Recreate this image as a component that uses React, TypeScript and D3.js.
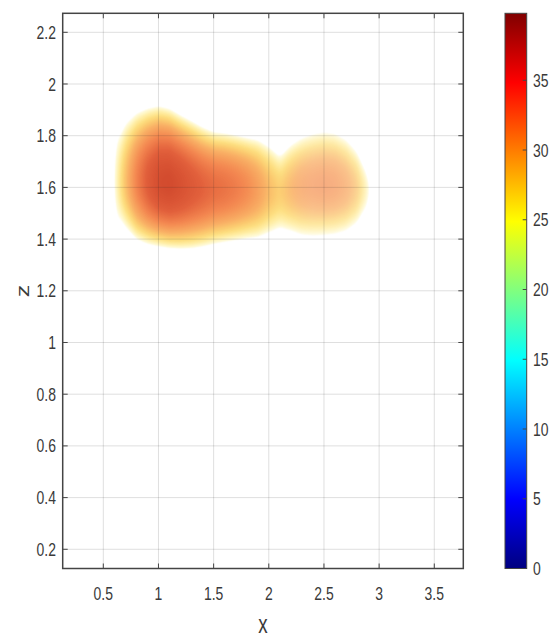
import React, { useMemo } from 'react';
import * as d3 from 'd3';

// ---------- layout (page pixels) ----------
const W = 553;
const H = 642;
const plotLeft = 62.7;
const plotRight = 463.3;
const plotTop = 13.3;
const plotBottom = 568.5;
const cbLeft = 505;
const cbRight = 526.7;

// ---------- axis data ----------
const xDomain = [0.132, 3.763];
const zDomain = [0.1257, 2.2735];
const xTicks = [0.5, 1, 1.5, 2, 2.5, 3, 3.5];
const xTickLabels = ['0.5', '1', '1.5', '2', '2.5', '3', '3.5'];
const zTicks = [0.2, 0.4, 0.6, 0.8, 1, 1.2, 1.4, 1.6, 1.8, 2, 2.2];
const zTickLabels = ['0.2', '0.4', '0.6', '0.8', '1', '1.2', '1.4', '1.6', '1.8', '2', '2.2'];
const cbDomain = [0, 39.8];
const cbTicks = [0, 5, 10, 15, 20, 25, 30, 35];
const jetStops = [0, 1 / 8, 3 / 8, 5 / 8, 7 / 8, 1];
const jetColors = ['#000080', '#0000ff', '#00ffff', '#ffff00', '#ff0000', '#800000'];

// ---------- blob data, read column by column (x step 0.1) ----------
const colX = [0.5, 0.6, 0.7, 0.8, 0.9, 1.0, 1.1, 1.2, 1.3, 1.4, 1.5, 1.6, 1.7, 1.8, 1.9, 2.0, 2.1, 2.2, 2.3, 2.4, 2.5, 2.6, 2.7, 2.8, 2.9, 3.0];
const peakVal = [19, 23.8, 27.3, 30.2, 32.3, 33.7, 34.0, 33.4, 32.6, 31.9, 31.3, 31.0, 30.5, 29.8, 28.8, 27.5, 26.6, 27.8, 28.8, 29.3, 29.5, 29.3, 28.6, 27.2, 24.2, 19];
const centerZ = [1.62, 1.62, 1.625, 1.625, 1.625, 1.62, 1.615, 1.61, 1.605, 1.6, 1.6, 1.6, 1.6, 1.6, 1.595, 1.59, 1.585, 1.595, 1.605, 1.61, 1.61, 1.61, 1.605, 1.6, 1.595, 1.59];
const topZ = [1.72, 1.73, 1.835, 1.88, 1.9, 1.91, 1.9, 1.875, 1.852, 1.828, 1.81, 1.805, 1.797, 1.787, 1.777, 1.75, 1.712, 1.757, 1.785, 1.8, 1.808, 1.802, 1.778, 1.73, 1.63, 1.62];
const bottomZ = [1.54, 1.53, 1.455, 1.405, 1.385, 1.375, 1.368, 1.366, 1.368, 1.375, 1.385, 1.393, 1.4, 1.407, 1.413, 1.432, 1.452, 1.438, 1.422, 1.418, 1.42, 1.425, 1.438, 1.47, 1.55, 1.56];
const opacityCol = [1, 1, 1, 1, 1, 1, 1, 1, 1, 1, 1, 1, 1, 1, 1, 1, 1, 0.9, 0.8, 0.75, 0.75, 0.75, 0.75, 0.75, 0.75, 0.75];

// rendered look of the translucent volume by value
const shadeStops = [23.6, 24, 25, 26, 27, 28, 30, 32, 34, 36];
const shadeColors = ['#ffe100', '#ffde00', '#ffce00', '#fbbd00', '#f8a005', '#f57e05', '#ee5305', '#d82f00', '#c82300', '#be1900'];
const shadeAlpha = [0, 0.15, 0.35, 0.5, 0.58, 0.62, 0.7, 0.77, 0.82, 0.85];

const FONT = "'Liberation Sans', Arial, Helvetica, sans-serif";
const SX = 0.75;
const FS = 18.6;
const TEXT = '#3a3a3a';
const AXIS = '#444';

function colParam(arr: number[], x: number) {
  const f = (x - colX[0]) / (colX[1] - colX[0]);
  const i = Math.max(0, Math.min(colX.length - 2, Math.floor(f)));
  const t = f - i;
  return arr[i] * (1 - t) + arr[i + 1] * t;
}

function fieldAt(x: number, z: number) {
  if (x < colX[0] || x > colX[colX.length - 1]) return 15;
  const P = colParam(peakVal, x);
  const zc = colParam(centerZ, x);
  const T = colParam(topZ, x);
  const B = colParam(bottomZ, x);
  const u = z >= zc ? (z - zc) / (T - zc) : (zc - z) / (zc - B);
  const k = Math.max(P - 24, 0.5);
  return Math.max(P - k * u * u, 18);
}

function boxBlur(src: Float32Array, w: number, h: number, r: number) {
  const tmp = new Float32Array(w * h);
  const out = new Float32Array(w * h);
  const n = 2 * r + 1;
  for (let y = 0; y < h; y++) {
    for (let x = 0; x < w; x++) {
      let s = 0;
      for (let k = -r; k <= r; k++) {
        const xx = Math.max(0, Math.min(w - 1, x + k));
        s += src[y * w + xx];
      }
      tmp[y * w + x] = s / n;
    }
  }
  for (let y = 0; y < h; y++) {
    for (let x = 0; x < w; x++) {
      let s = 0;
      for (let k = -r; k <= r; k++) {
        const yy = Math.max(0, Math.min(h - 1, y + k));
        s += tmp[yy * w + x];
      }
      out[y * w + x] = s / n;
    }
  }
  return out;
}

function SText({ x, y, anchor, children, size = FS, rotate = 0 }: any) {
  return (
    <g transform={`translate(${x},${y}) scale(${SX},1) rotate(${rotate})`}>
      <text x={0} y={0} textAnchor={anchor} fontFamily={FONT} fontSize={size} fill={TEXT}>
        {children}
      </text>
    </g>
  );
}

export default function App() {
  const xScale = d3.scaleLinear().domain(xDomain).range([plotLeft, plotRight]);
  const zScale = d3.scaleLinear().domain(zDomain).range([plotBottom, plotTop]);
  const cbScale = d3.scaleLinear().domain(cbDomain).range([plotBottom, plotTop]);
  const jet = d3
    .scaleLinear<string>()
    .domain(jetStops.map((t) => cbDomain[0] + t * (cbDomain[1] - cbDomain[0])))
    .range(jetColors)
    .interpolate(d3.interpolateRgb);
  const shadeColor = d3.scaleLinear<string>().domain(shadeStops).range(shadeColors).clamp(true);
  const shadeA = d3.scaleLinear().domain(shadeStops).range(shadeAlpha).clamp(true);

  const blobUrl = useMemo(() => {
    if (typeof document === 'undefined') return '';
    const w = Math.round(plotRight - plotLeft);
    const h = Math.round(plotBottom - plotTop);
    const vals = new Float32Array(w * h);
    for (let j = 0; j < h; j++) {
      const z = zScale.invert(plotTop + j + 0.5);
      for (let i = 0; i < w; i++) {
        const x = xScale.invert(plotLeft + i + 0.5);
        vals[j * w + i] = fieldAt(x, z);
      }
    }
    const b = boxBlur(boxBlur(vals, w, h, 2), w, h, 2);
    const canvas = document.createElement('canvas');
    canvas.width = w;
    canvas.height = h;
    const ctx = canvas.getContext('2d')!;
    const img = ctx.createImageData(w, h);
    for (let j = 0; j < h; j++) {
      for (let i = 0; i < w; i++) {
        const v = b[j * w + i];
        const p = (j * w + i) * 4;
        if (v < shadeStops[0]) {
          img.data[p + 3] = 0;
          continue;
        }
        const x = xScale.invert(plotLeft + i + 0.5);
        const o = x < colX[0] || x > colX[colX.length - 1] ? 1 : colParam(opacityCol, x);
        const c = d3.rgb(shadeColor(v));
        img.data[p] = c.r;
        img.data[p + 1] = c.g;
        img.data[p + 2] = c.b;
        img.data[p + 3] = Math.round(255 * shadeA(v) * o);
      }
    }
    ctx.putImageData(img, 0, 0);
    return canvas.toDataURL();
  }, []);

  const tickLen = 5;

  return (
    <svg
      width={W}
      height={H}
      viewBox={`0 0 ${W} ${H}`}
      style={{ position: 'absolute', left: 0, top: 0, background: '#fff' }}
    >
      <rect x={0} y={0} width={W} height={H} fill="#fff" />
      <defs>
        <linearGradient id="jetGrad" x1="0" y1="1" x2="0" y2="0">
          {jetStops.map((t, i) => (
            <stop key={i} offset={t} stopColor={jetColors[i]} />
          ))}
        </linearGradient>
        <clipPath id="plotClip">
          <rect x={plotLeft} y={plotTop} width={plotRight - plotLeft} height={plotBottom - plotTop} />
        </clipPath>
      </defs>

      {/* volume image */}
      {blobUrl && (
        <image
          href={blobUrl}
          x={plotLeft}
          y={plotTop}
          width={Math.round(plotRight - plotLeft)}
          height={Math.round(plotBottom - plotTop)}
          preserveAspectRatio="none"
          clipPath="url(#plotClip)"
        />
      )}

      {/* grid on top, translucent like MATLAB */}
      <g stroke="#262626" strokeOpacity={0.15} strokeWidth={1}>
        {xTicks.map((t) => (
          <line key={'gx' + t} x1={xScale(t)} x2={xScale(t)} y1={plotTop} y2={plotBottom} />
        ))}
        {zTicks.map((t) => (
          <line key={'gz' + t} x1={plotLeft} x2={plotRight} y1={zScale(t)} y2={zScale(t)} />
        ))}
      </g>

      {/* ticks */}
      <g stroke={AXIS} strokeWidth={1}>
        {xTicks.map((t) => (
          <g key={'tx' + t}>
            <line x1={xScale(t)} x2={xScale(t)} y1={plotBottom} y2={plotBottom - tickLen} />
            <line x1={xScale(t)} x2={xScale(t)} y1={plotTop} y2={plotTop + tickLen} />
          </g>
        ))}
        {zTicks.map((t) => (
          <g key={'tz' + t}>
            <line x1={plotLeft} x2={plotLeft + tickLen} y1={zScale(t)} y2={zScale(t)} />
            <line x1={plotRight} x2={plotRight - tickLen} y1={zScale(t)} y2={zScale(t)} />
          </g>
        ))}
      </g>

      {/* box */}
      <rect
        x={plotLeft}
        y={plotTop}
        width={plotRight - plotLeft}
        height={plotBottom - plotTop}
        fill="none"
        stroke={AXIS}
        strokeWidth={1.5}
      />

      {/* tick labels */}
      {xTicks.map((t, i) => (
        <SText key={'lx' + t} x={xScale(t)} y={600} anchor="middle">
          {xTickLabels[i]}
        </SText>
      ))}
      {zTicks.map((t, i) => (
        <SText key={'lz' + t} x={56} y={zScale(t) + 6.6} anchor="end">
          {zTickLabels[i]}
        </SText>
      ))}

      {/* axis labels */}
      <SText x={(plotLeft + plotRight) / 2} y={633} anchor="middle" size={25}>
        x
      </SText>
      <SText x={28.5} y={(plotTop + plotBottom) / 2} anchor="middle" size={25} rotate={-90}>
        z
      </SText>

      {/* colorbar */}
      <rect x={cbLeft} y={plotTop} width={cbRight - cbLeft} height={plotBottom - plotTop} fill="url(#jetGrad)" />
      <g stroke={AXIS} strokeWidth={1}>
        {cbTicks.map((t) => (
          <line key={'cbt' + t} x1={cbRight - 4} x2={cbRight} y1={cbScale(t)} y2={cbScale(t)} />
        ))}
      </g>
      <rect
        x={cbLeft}
        y={plotTop}
        width={cbRight - cbLeft}
        height={plotBottom - plotTop}
        fill="none"
        stroke={AXIS}
        strokeWidth={1}
      />
      {cbTicks.map((t) => (
        <SText key={'cbl' + t} x={533} y={cbScale(t) + 6.6} anchor="start">
          {String(t)}
        </SText>
      ))}
      {/* keep jet scale referenced */}
      <desc>{jet(20)}</desc>
    </svg>
  );
}
